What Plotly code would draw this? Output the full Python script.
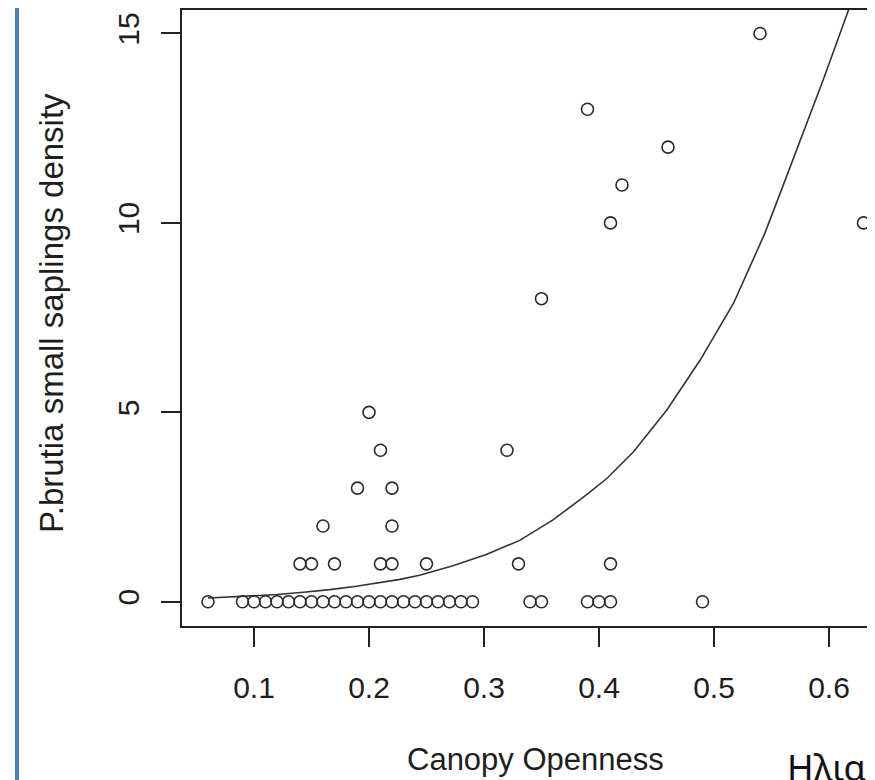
import plotly.graph_objects as go

# Observed data: canopy openness vs small sapling density
openness = [0.06, 0.09, 0.10, 0.11, 0.12, 0.13, 0.14, 0.15, 0.16, 0.17, 0.18, 0.19, 0.20,
            0.21, 0.22, 0.23, 0.24, 0.25, 0.26, 0.27, 0.28, 0.29,
            0.34, 0.35, 0.39, 0.40, 0.41, 0.49,
            0.14, 0.15, 0.17, 0.21, 0.22, 0.25, 0.33, 0.41,
            0.16, 0.22, 0.19, 0.22, 0.21, 0.32, 0.20,
            0.35, 0.41, 0.63, 0.42, 0.46, 0.39, 0.54]
density = [0, 0, 0, 0, 0, 0, 0, 0, 0, 0, 0, 0, 0,
           0, 0, 0, 0, 0, 0, 0, 0, 0,
           0, 0, 0, 0, 0, 0,
           1, 1, 1, 1, 1, 1, 1, 1,
           2, 2, 3, 3, 4, 4, 5,
           8, 10, 10, 11, 12, 13, 15]

# Fitted curve
curve_x = [0.06, 0.09, 0.12, 0.143, 0.166, 0.189, 0.21, 0.227, 0.244, 0.273, 0.302,
           0.331, 0.36, 0.389, 0.407, 0.43, 0.459, 0.488, 0.517, 0.531, 0.544, 0.557,
           0.572, 0.595, 0.617]
curve_y = [0.10, 0.14, 0.19, 0.25, 0.32, 0.41, 0.51, 0.59, 0.70, 0.95, 1.25,
           1.62, 2.16, 2.82, 3.26, 3.96, 5.06, 6.38, 7.88, 8.81, 9.71, 10.74,
           11.93, 13.78, 15.62]

x_ticks = [0.1, 0.2, 0.3, 0.4, 0.5, 0.6]
x_tick_labels = ["0.1", "0.2", "0.3", "0.4", "0.5", "0.6"]
y_ticks = [0, 5, 10, 15]
y_tick_labels = ["0", "5", "10", "15"]

INK = "#1e1e1e"
FONT = "Liberation Sans, Arial, sans-serif"

# the page body has an 8px margin; size the figure so it ends at the window edge
OFF = 8
W, H = 875 - OFF, 780 - OFF
ML, MT = 182 - OFF, 10 - OFF
MR = 0
MB = H - (626 - OFF)
pw = W - ML - MR
ph = H - MT - MB


def px(p):
    return (p - OFF - ML) / pw


def py(p):
    return 1 - (p - OFF - MT) / ph


fig = go.Figure()
fig.add_trace(go.Scatter(x=curve_x, y=curve_y, mode="lines",
                         line=dict(color="#333333", width=1.6),
                         hoverinfo="skip", showlegend=False))
fig.add_trace(go.Scatter(x=openness, y=density, mode="markers",
                         marker=dict(symbol="circle-open", size=12, color="#2a2a2a",
                                     line=dict(width=1.6, color="#2a2a2a")),
                         showlegend=False))

fig.update_layout(
    width=W, height=H,
    margin=dict(l=ML, r=MR, t=MT, b=MB, pad=0),
    paper_bgcolor="white", plot_bgcolor="white",
    font=dict(family=FONT, size=30, color=INK),
    xaxis=dict(range=[0.0374, 0.64], tickvals=x_ticks, ticktext=x_tick_labels,
               showgrid=False, zeroline=False, showline=True, mirror=True,
               linecolor="#222222", linewidth=1.6,
               ticks="outside", ticklen=19, tickwidth=1.6, tickcolor="#222222",
               ticklabelstandoff=15,
               tickfont=dict(size=30, color=INK, family=FONT)),
    yaxis=dict(range=[-0.64, 15.62], tickvals=y_ticks, ticktext=y_tick_labels,
               showgrid=False, zeroline=False, showline=True, mirror=False,
               linecolor="#222222", linewidth=1.6,
               ticks="outside", ticklen=19, tickwidth=1.6, tickcolor="#222222",
               tickangle=-90, ticklabelstandoff=10,
               tickfont=dict(size=30, color=INK, family=FONT)),
    shapes=[dict(type="line", xref="paper", yref="paper",
                 x0=px(17), x1=px(17), y0=py(800), y1=py(-10),
                 line=dict(color="#4f7fbd", width=4))],
    annotations=[
        dict(text="Canopy Openness", xref="paper", yref="paper",
             x=px(535.5), y=py(759), showarrow=False,
             xanchor="center", yanchor="middle",
             font=dict(size=31, color=INK, family=FONT)),
        dict(text="P.brutia small saplings density", xref="paper", yref="paper",
             x=px(52), y=py(313), showarrow=False, textangle=-90,
             xanchor="center", yanchor="middle",
             font=dict(size=33, color=INK, family=FONT)),
        dict(text="Ηλια", xref="paper", yref="paper",
             x=px(785), y=py(794), showarrow=False,
             xanchor="left", yanchor="bottom",
             font=dict(size=36, color="#111111", family="Noto Sans, sans-serif")),
    ],
)

fig.write_html("out.html")
